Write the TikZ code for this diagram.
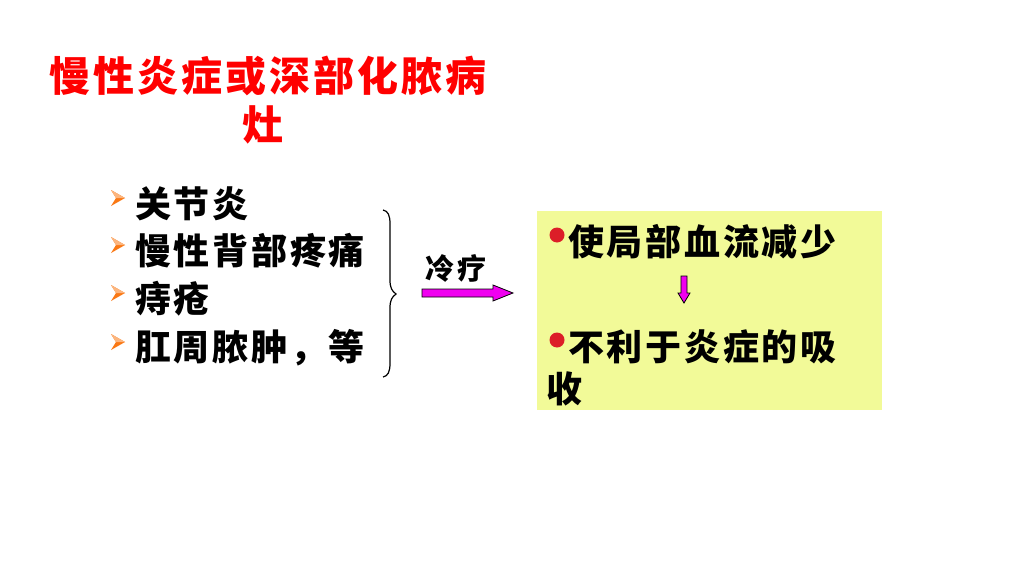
\documentclass[tikz,border=0pt]{standalone}
\usepackage{fontspec}
\newfontfamily\cjk{Noto Sans CJK SC}
\usetikzlibrary{calc}
\definecolor{titlered}{RGB}{255,0,0}
\definecolor{boxyellow}{RGB}{242,250,152}
\definecolor{arrowmag}{RGB}{240,0,240}
\definecolor{bulletorange}{RGB}{250,120,20}
\definecolor{dotred}{RGB}{220,30,40}
\tikzset{
  titletext/.style={text=titlered, font=\cjk\bfseries\fontsize{41}{46}\selectfont\addfontfeature{LetterSpace=7.5}, inner sep=0pt, anchor=center},
  listtext/.style={text=black, font=\cjk\bfseries\fontsize{36}{42}\selectfont\addfontfeature{LetterSpace=7.5}, inner sep=0pt, anchor=west},
  labeltext/.style={text=black, font=\cjk\bfseries\fontsize{29}{32}\selectfont\addfontfeature{LetterSpace=8}, inner sep=0pt, anchor=center},
  blockarrow/.style={draw=black, line width=0.8pt, fill=arrowmag, line join=miter},
  reddot/.style={fill=dotred, circle, minimum size=15pt, inner sep=0pt},
}
\newcommand{\orangebullet}[1]{%
  \fill[bulletorange] ($(#1)+(-7,-8)$) -- ($(#1)+(7,0)$) -- ($(#1)+(-7,8)$) -- ($(#1)+(-2,0)$) -- cycle;
  \fill[bulletorange!55!white] ($(#1)+(-7,-8)$) -- ($(#1)+(7,0)$) -- ($(#1)+(-2,0)$) -- cycle;}
\begin{document}
\begin{tikzpicture}[x=1pt,y=-1pt]
\useasboundingbox (0,0) rectangle (1024,575);
\fill[white] (0,0) rectangle (1024,575);
% title
\node[titletext] (t1) at (268,76) {慢性炎症或深部化脓病};
\node[titletext] (t2) at (263,125) {灶};
% list
\node[listtext] (l1) at (135,204) {关节炎};
\node[listtext] (l2) at (135,251) {慢性背部疼痛};
\node[listtext] (l3) at (135,299) {痔疮};
\node[listtext] (l4) at (135,348) {肛周脓肿，等};
\coordinate (b1) at (118,198);
\coordinate (b2) at (118,245);
\coordinate (b3) at (118,293);
\coordinate (b4) at (118,342);
\orangebullet{b1}
\orangebullet{b2}
\orangebullet{b3}
\orangebullet{b4}
% brace
\coordinate (brtop) at (383,210);
\coordinate (brtip) at (396,294);
\coordinate (brbot) at (383,377);
\draw[line width=1.2pt] (brtop) .. controls (388,211) and (390,215) .. (390,224)
  -- (390,280) .. controls (390,288) and (392,291) .. (brtip)
  .. controls (392,297) and (390,300) .. (390,308)
  -- (390,363) .. controls (390,372) and (388,376) .. (brbot);
% cold therapy label and arrow
\node[labeltext] (cold) at (456,268) {冷疗};
\coordinate (ha) at (422,293);
\coordinate (hb) at (513,293);
\draw[blockarrow] ($(ha)+(0,-4)$) -- ($(hb)+(-20,-4)$) -- ($(hb)+(-20,-8)$) -- (hb)
  -- ($(hb)+(-20,8)$) -- ($(hb)+(-20,4)$) -- ($(ha)+(0,4)$) -- cycle;
% yellow box
\node[fill=boxyellow, minimum width=345pt, minimum height=199pt, inner sep=0pt, anchor=north west] (box) at (537,211) {};
\node[listtext] (r1) at (568,242) {使局部血流减少};
\node[listtext] (r2) at (568,347) {不利于炎症的吸};
\node[listtext] (r3) at (546,389) {收};
\node[reddot] (d1) at (557,235) {};
\node[reddot] (d2) at (557,340) {};
% down arrow
\coordinate (da) at (684,276);
\coordinate (db) at (684,303);
\draw[blockarrow] ($(da)+(-3,0)$) -- ($(db)+(-3,-10)$) -- ($(db)+(-6,-10)$) -- (db)
  -- ($(db)+(6,-10)$) -- ($(db)+(3,-10)$) -- ($(da)+(3,0)$) -- cycle;
\end{tikzpicture}
\end{document}
